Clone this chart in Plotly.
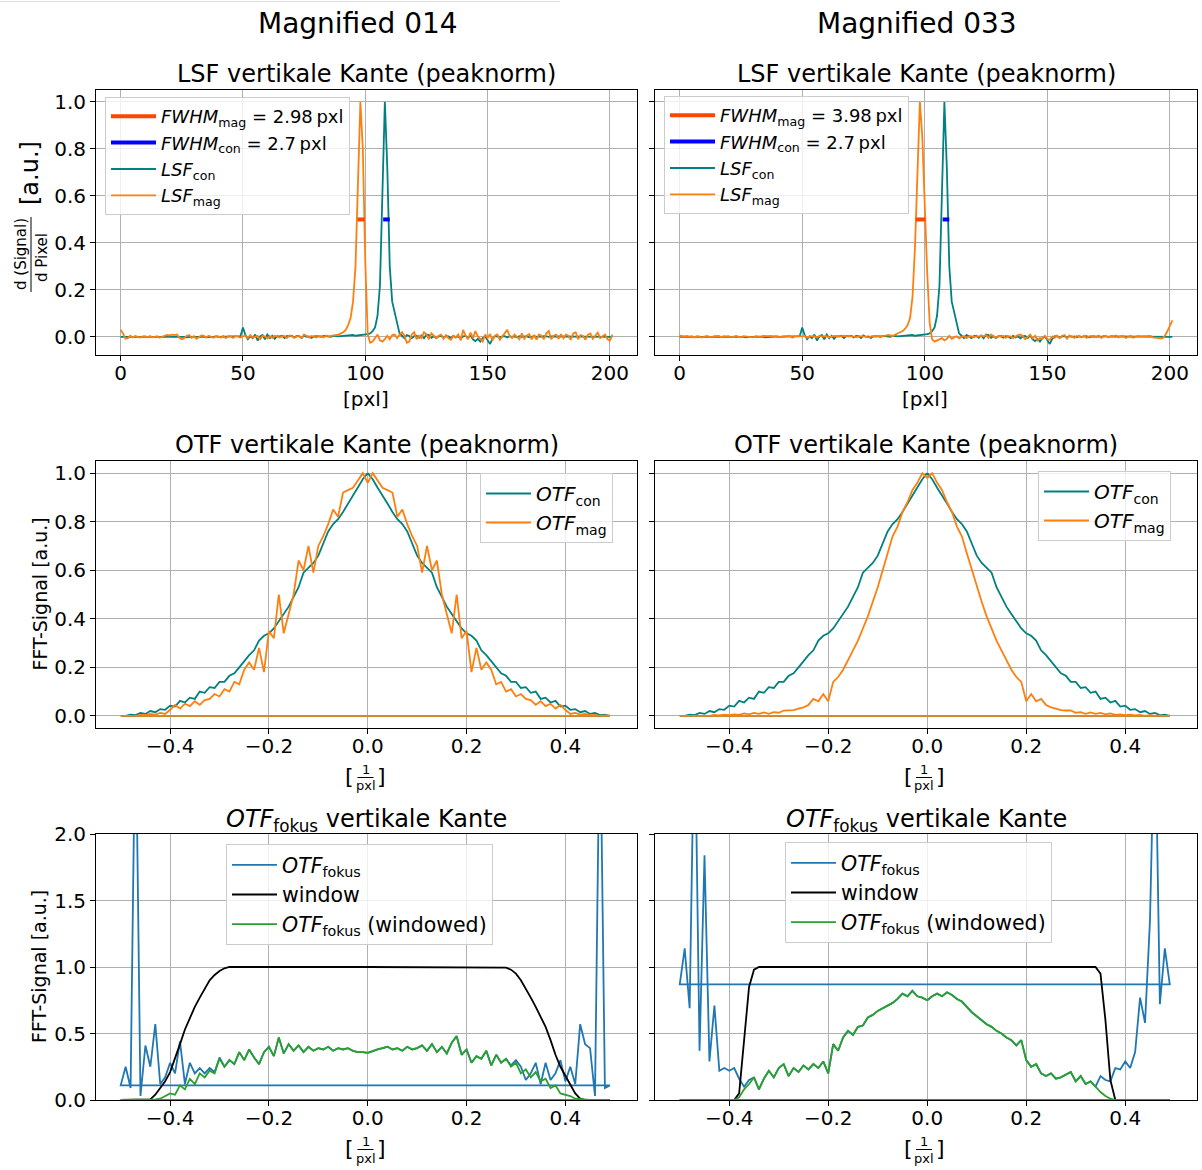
import plotly.graph_objects as go

W, H = 1202, 1170
FONT = "DejaVu Sans"

# ---------------- data ----------------
pixel = list(range(202))
freq = [round(i / 100, 2) for i in range(-50, 50)]

lsf_con = [
    0, 0, 0, 0, 0, 0, .002, 0, 0, 0,
    0, 0, 0, .002, 0, 0, 0, 0, 0, 0,
    0, .002, 0, 0, .003, 0, 0, -.002, 0, 0,
    0, 0, .002, 0, 0, -.002, 0, 0, 0, .002,
    0, 0, 0, .002, 0, 0, 0, .002, 0, .003,
    .04, .008, -.01, .003, -.005, .01, -.015, .002, .008, -.01,
    .01, -.005, .005, -.008, .003, .002, .005, -.005, .004, .002,
    .005, -.002, .004, .003, -.005, .006, 0, .002, -.004, .002,
    .003, .002, 0, .004, .002, .003, 0, .005, .003, .002,
    .003, .004, .005, .003, .006, .008, .005, .006, .01, .008,
    .01, .012, .015, .025, .04, .09, .22, .62, 1.0, .72,
    .3, .15, .1, .05, .015, .005, -.005, .008, .004, -.005,
    .003, .005, -.004, .006, -.006, .01, .008, -.004, .003, -.005,
    .002, .004, -.003, .003, .002, -.005, .004, -.002, .003, -.006,
    .002, .004, -.005, .006, -.01, -.018, -.008, -.02, -.005, .002,
    -.015, -.03, -.008, .003, .002, -.003, .002, .003, -.002, .003,
    0, .002, -.002, .003, 0, .002, .003, -.002, .002, .003,
    0, .002, 0, .003, .002, 0, .002, .002, 0, .002,
    0, .003, 0, .002, 0, .002, .003, 0, 0, .002,
    0, .002, 0, 0, .003, .002, 0, .002, 0, 0,
    .002, 0]

lsf_mag_014 = [
    .03, .015, -.008, -.005, .005, -.002, .004, .002, -.003, .002,
    .003, -.002, .004, -.002, .002, .003, -.004, .002, .005, .008,
    .006, .01, .008, .01, -.003, -.01, -.006, .005, .008, -.004,
    .003, -.008, -.002, .006, .004, -.002, .005, .002, -.004, .003,
    .002, -.003, .004, -.005, .003, .002, -.004, .004, .002, -.003,
    .003, .006, -.004, .008, -.003, .002, .005, -.01, .004, .002,
    -.006, .003, -.004, .005, .002, -.003, .002, .004, -.005, .006,
    .003, -.004, .002, .003, -.004, .01, .005, -.003, .004, .002,
    -.003, .004, .003, -.002, .006, .002, .004, .003, .005, .01,
    .015, .02, .03, .05, .08, .15, .3, .62, 1.0, .8,
    .32, .01, -.025, -.02, -.005, .01, -.015, -.02, -.01, .005,
    -.01, .008, .01, -.005, .01, .02, .005, -.025, -.02, .01,
    .02, -.01, .005, -.005, .02, .01, -.01, .015, .005, -.005,
    .005, .01, -.008, .008, -.006, -.012, .005, -.002, .01, -.015,
    .03, .005, -.01, .018, -.005, .025, .002, -.01, -.02, .01,
    -.005, .012, -.015, .005, .01, -.012, .003, .015, .03, .005,
    -.005, .01, .002, -.01, .015, -.008, .005, .012, -.01, .008,
    -.012, .01, .005, -.01, .015, .025, -.01, .005, .01, -.008,
    .012, -.006, .01, .005, -.012, .015, .02, -.01, .008, .004,
    -.012, .01, .015, -.008, .005, .018, -.005, .003, .01, -.01,
    -.015, .01]

lsf_mag_033 = [
    .005, .003, .002, .004, .001, .003, -.002, .003, .002, -.003,
    .002, .004, .001, -.002, .003, .002, .004, -.001, .003, .002,
    .003, -.002, .002, .004, .001, -.002, .003, .002, .003, .001,
    -.002, .003, .002, .001, .004, .002, .003, .004, .002, .001,
    .003, -.002, .002, .003, .001, .004, -.003, .002, .003, .001,
    .002, .004, -.003, .002, .001, .003, -.002, .004, .002, .001,
    .003, -.002, .002, .004, .003, .001, .003, .005, .002, .004,
    .003, .001, -.002, .003, .002, .004, .001, -.003, .002, .003,
    .001, .004, .002, .003, .005, .008, .006, .004, .01, .015,
    .02, .025, .035, .05, .08, .17, .38, .70, 1.0, .85,
    .55, .27, .06, -.01, -.02, -.015, -.012, -.005, -.015, -.008,
    .004, -.008, -.002, .003, -.006, -.002, .004, -.005, .002, .003,
    -.002, .003, .001, .005, .003, .008, -.005, .01, .003, -.004,
    .004, .001, .005, -.004, .002, .002, -.005, .003, .008, .01,
    .003, -.01, .002, .01, -.006, .005, -.015, -.005, -.008, .004,
    -.01, -.012, .002, -.004, .006, -.006, .004, .008, -.008, .006,
    .002, -.004, .004, .002, -.002, .005, -.004, .002, .004, -.002,
    .003, .006, -.004, .002, .003, -.002, .004, .002, .006, -.002,
    .003, .004, -.004, .002, .005, -.003, .002, .004, .002, .003,
    .002, .005, .004, -.002, -.004, -.006, -.006, -.005, .005, .025,
    .05, .07]

fwhm_mag_014 = 2.98
fwhm_mag_033 = 3.98
fwhm_con = 2.7
fwhm_left_mag_014 = 96.8
fwhm_left_mag_033 = 96.3
fwhm_left_con = 107.3
half_max = 0.5

otf_con = [
    0.0, 0.0, 0.005, 0.003, 0.012, 0.008, 0.02, 0.015, 0.028, 0.025,
    0.042, 0.038, 0.062, 0.055, 0.075, 0.07, 0.10, 0.095, 0.118, 0.115,
    0.14, 0.14, 0.165, 0.175, 0.20, 0.225, 0.25, 0.27, 0.31, 0.33,
    0.34, 0.36, 0.39, 0.42, 0.45, 0.49, 0.53, 0.59, 0.61, 0.63,
    0.66, 0.71, 0.76, 0.79, 0.81, 0.84, 0.875, 0.91, 0.94, 0.975,
    1.0, 0.975, 0.94, 0.91, 0.875, 0.84, 0.81, 0.79, 0.76, 0.71,
    0.66, 0.63, 0.61, 0.59, 0.53, 0.49, 0.45, 0.42, 0.39, 0.36,
    0.34, 0.33, 0.31, 0.27, 0.25, 0.225, 0.20, 0.175, 0.165, 0.14,
    0.14, 0.115, 0.118, 0.095, 0.10, 0.07, 0.075, 0.055, 0.062, 0.038,
    0.042, 0.025, 0.028, 0.015, 0.02, 0.008, 0.012, 0.003, 0.005, 0.0]

otf_mag_014 = [
    0.0, 0.0, 0.002, 0.0, 0.004, 0.003, 0.008, 0.005, 0.012, 0.008,
    0.025, 0.045, 0.03, 0.05, 0.04, 0.06, 0.045, 0.065, 0.07, 0.09,
    0.08, 0.11, 0.10, 0.14, 0.13, 0.19, 0.22, 0.19, 0.28, 0.18,
    0.35, 0.32, 0.50, 0.34, 0.42, 0.50, 0.64, 0.60, 0.70, 0.59,
    0.70, 0.74, 0.79, 0.85, 0.82, 0.92, 0.93, 0.94, 0.97, 1.0,
    0.96, 1.0, 0.97, 0.94, 0.93, 0.92, 0.82, 0.85, 0.79, 0.74,
    0.70, 0.59, 0.70, 0.60, 0.64, 0.50, 0.42, 0.34, 0.50, 0.32,
    0.35, 0.18, 0.28, 0.19, 0.22, 0.19, 0.13, 0.14, 0.10, 0.11,
    0.08, 0.09, 0.07, 0.065, 0.045, 0.06, 0.04, 0.05, 0.03, 0.045,
    0.025, 0.008, 0.012, 0.005, 0.008, 0.003, 0.004, 0.0, 0.002, 0.0]

otf_mag_033 = [
    0.0, 0.0, 0.0, 0.002, 0.0, 0.003, 0.0, 0.004, 0.002, 0.005,
    0.003, 0.006, 0.004, 0.01, 0.006, 0.012, 0.008, 0.014, 0.008, 0.015,
    0.013, 0.022, 0.022, 0.024, 0.03, 0.035, 0.045, 0.07, 0.06, 0.09,
    0.06, 0.14, 0.16, 0.19, 0.23, 0.27, 0.31, 0.36, 0.41, 0.47,
    0.53, 0.60, 0.67, 0.74, 0.78, 0.84, 0.88, 0.93, 0.96, 1.0,
    0.98, 1.0, 0.96, 0.93, 0.88, 0.84, 0.78, 0.74, 0.67, 0.60,
    0.53, 0.47, 0.41, 0.36, 0.31, 0.27, 0.23, 0.19, 0.16, 0.14,
    0.06, 0.09, 0.06, 0.07, 0.045, 0.035, 0.03, 0.024, 0.022, 0.022,
    0.013, 0.015, 0.008, 0.014, 0.008, 0.012, 0.006, 0.01, 0.004, 0.006,
    0.003, 0.005, 0.002, 0.004, 0.0, 0.003, 0.0, 0.002, 0.0, 0.0]

otf_fokus_014 = [
    0.11, 0.25, 0.09, 3.0, 0.03, 0.41, 0.25, 0.57, 0.12, 0.17,
    0.28, 0.20, 0.44, 0.12, 0.28, 0.20, 0.24, 0.20, 0.24, 0.21,
    0.32, 0.25, 0.30, 0.27, 0.36, 0.30, 0.38, 0.32, 0.27, 0.36,
    0.40, 0.33, 0.47, 0.35, 0.42, 0.37, 0.41, 0.36, 0.40, 0.37,
    0.39, 0.38, 0.40, 0.37, 0.39, 0.38, 0.39, 0.37, 0.36, 0.36,
    0.355, 0.37, 0.38, 0.39, 0.40, 0.38, 0.39, 0.37, 0.40, 0.38,
    0.39, 0.41, 0.37, 0.42, 0.36, 0.40, 0.35, 0.43, 0.48, 0.34,
    0.38, 0.28, 0.33, 0.31, 0.37, 0.26, 0.34, 0.28, 0.31, 0.26,
    0.30, 0.25, 0.15, 0.20, 0.28, 0.12, 0.28, 0.15, 0.20, 0.30,
    0.14, 0.25, 0.12, 0.57, 0.42, 0.39, 0.03, 3.0, 0.09, 0.11]

window_014 = [
    0, 0, 0, 0, 0, 0, 0.005, 0.04, 0.09, 0.14,
    0.21, 0.31, 0.42, 0.53, 0.62, 0.70, 0.77, 0.84, 0.90, 0.94,
    0.97, 0.99, 1.0, 1.0, 1.0, 1.0, 1.0, 1.0, 1.0, 1.0,
    1.0, 1.0, 1.0, 1.0, 1.0, 1.0, 1.0, 1.0, 1.0, 1.0,
    1.0, 1.0, 1.0, 1.0, 1.0, 1.0, 1.0, 1.0, 1.0, 1.0,
    1.0, 1.0, 1.0, 1.0, 1.0, 1.0, 1.0, 1.0, 1.0, 1.0,
    1.0, 1.0, 1.0, 1.0, 1.0, 1.0, 1.0, 1.0, 1.0, 1.0,
    1.0, 1.0, 1.0, 1.0, 1.0, 1.0, 1.0, 1.0, 0.995, 0.98,
    0.95, 0.90, 0.84, 0.77, 0.70, 0.62, 0.55, 0.45, 0.34, 0.25,
    0.18, 0.11, 0.05, 0.01, 0, 0, 0, 0, 0, 0]

otf_win_014 = [
    0, 0, 0, 0, 0, 0, 0, 0.005, 0.01, 0.03,
    0.05, 0.04, 0.11, 0.08, 0.16, 0.12, 0.20, 0.17, 0.22, 0.20,
    0.31, 0.25, 0.30, 0.27, 0.36, 0.30, 0.38, 0.32, 0.27, 0.36,
    0.40, 0.33, 0.47, 0.35, 0.42, 0.37, 0.41, 0.36, 0.40, 0.37,
    0.39, 0.38, 0.40, 0.37, 0.39, 0.38, 0.39, 0.37, 0.36, 0.36,
    0.355, 0.37, 0.38, 0.39, 0.40, 0.38, 0.39, 0.37, 0.40, 0.38,
    0.39, 0.41, 0.37, 0.42, 0.36, 0.40, 0.35, 0.43, 0.48, 0.34,
    0.38, 0.28, 0.33, 0.31, 0.37, 0.26, 0.34, 0.28, 0.31, 0.25,
    0.28, 0.20, 0.23, 0.17, 0.21, 0.14, 0.16, 0.09, 0.11, 0.05,
    0.04, 0.03, 0.01, 0.005, 0, 0, 0, 0, 0, 0]

otf_fokus_033 = [
    0.87, 1.14, 0.69, 3.0, 0.37, 1.84, 0.29, 0.71, 0.22, 0.24,
    0.22, 0.24, 0.16, 0.10, 0.15, 0.17, 0.08, 0.16, 0.22, 0.17,
    0.24, 0.27, 0.18, 0.24, 0.21, 0.26, 0.23, 0.27, 0.24, 0.29,
    0.20, 0.42, 0.37, 0.47, 0.52, 0.49, 0.55, 0.56, 0.62, 0.64,
    0.67, 0.69, 0.71, 0.73, 0.76, 0.80, 0.78, 0.82, 0.78, 0.77,
    0.75, 0.78, 0.80, 0.78, 0.81, 0.79, 0.76, 0.74, 0.70, 0.66,
    0.63, 0.60, 0.57, 0.55, 0.52, 0.50, 0.47, 0.45, 0.41, 0.45,
    0.30, 0.25, 0.27, 0.20, 0.18, 0.20, 0.16, 0.17, 0.19, 0.21,
    0.14, 0.18, 0.12, 0.14, 0.10, 0.18, 0.15, 0.14, 0.24, 0.23,
    0.29, 0.24, 0.36, 0.77, 0.58, 1.35, 3.0, 0.72, 1.14, 0.87]

window_033 = [
    0, 0, 0, 0, 0, 0, 0, 0, 0, 0,
    0, 0, 0.05, 0.45, 0.85, 0.98, 1.0, 1.0, 1.0, 1.0,
    1.0, 1.0, 1.0, 1.0, 1.0, 1.0, 1.0, 1.0, 1.0, 1.0,
    1.0, 1.0, 1.0, 1.0, 1.0, 1.0, 1.0, 1.0, 1.0, 1.0,
    1.0, 1.0, 1.0, 1.0, 1.0, 1.0, 1.0, 1.0, 1.0, 1.0,
    1.0, 1.0, 1.0, 1.0, 1.0, 1.0, 1.0, 1.0, 1.0, 1.0,
    1.0, 1.0, 1.0, 1.0, 1.0, 1.0, 1.0, 1.0, 1.0, 1.0,
    1.0, 1.0, 1.0, 1.0, 1.0, 1.0, 1.0, 1.0, 1.0, 1.0,
    1.0, 1.0, 1.0, 1.0, 1.0, 0.95, 0.6, 0.15, 0, 0,
    0, 0, 0, 0, 0, 0, 0, 0, 0, 0]

otf_win_033 = [
    0, 0, 0, 0, 0, 0, 0, 0, 0, 0,
    0, 0, 0.02, 0.08, 0.12, 0.17, 0.08, 0.16, 0.22, 0.17,
    0.24, 0.27, 0.18, 0.24, 0.21, 0.26, 0.23, 0.27, 0.24, 0.29,
    0.20, 0.42, 0.37, 0.47, 0.52, 0.49, 0.55, 0.56, 0.62, 0.64,
    0.67, 0.69, 0.71, 0.73, 0.76, 0.80, 0.78, 0.82, 0.78, 0.77,
    0.75, 0.78, 0.80, 0.78, 0.81, 0.79, 0.76, 0.74, 0.70, 0.66,
    0.63, 0.60, 0.57, 0.55, 0.52, 0.50, 0.47, 0.45, 0.41, 0.45,
    0.30, 0.25, 0.27, 0.20, 0.18, 0.20, 0.16, 0.17, 0.19, 0.21,
    0.14, 0.18, 0.12, 0.14, 0.10, 0.06, 0.03, 0.01, 0, 0,
    0, 0, 0, 0, 0, 0, 0, 0, 0, 0]

for arr in (lsf_con, lsf_mag_014, lsf_mag_033):
    assert len(arr) == len(pixel), len(arr)
for arr in (otf_con, otf_mag_014, otf_mag_033, otf_fokus_014, window_014,
            otf_win_014, otf_fokus_033, window_033, otf_win_033):
    assert len(arr) == len(freq), len(arr)

# matplotlib plotted the unshifted FFT order (0 ... 0.49, -0.5 ... -0.01, back to 0)
order = list(range(50, 100)) + list(range(0, 50)) + [50]


def fft_order(v):
    return [v[i] for i in order]


f_plot = fft_order(freq)

# ---------------- styling ----------------
TEAL = "#008080"
ORANGE = "#ff7f0e"
ORED = "#ff4500"
BLUE = "#0000ff"
TBLUE = "#1f77b4"
GREEN = "#2ca02c"
LW = 1.8


def px_x(px):
    return px / W


def px_y(py):
    return 1 - py / H


COLX = [(96, 637), (655, 1197)]
ROWY = [(90, 355), (461, 728), (834, 1100)]

fig = go.Figure()


def axn(row, col):
    return 2 * row + col + 1


def add(x, y, row, col, name, color, width=LW, rank=1000):
    n = axn(row, col)
    fig.add_trace(go.Scatter(
        x=x, y=y, mode="lines", name=name,
        line=dict(color=color, width=width),
        xaxis="x" if n == 1 else f"x{n}", yaxis="y" if n == 1 else f"y{n}",
        legend="legend" if n == 1 else f"legend{n}",
        legendrank=rank, hoverinfo="skip"))


LSF_CON = "<i>LSF</i><sub>con</sub>"
LSF_MAG = "<i>LSF</i><sub>mag</sub>"
OTF_CON = "<i>OTF</i><sub>con</sub>"
OTF_MAG = "<i>OTF</i><sub>mag</sub>"
OTF_FOK = "<i>OTF</i><sub>fokus</sub>"

mags = [(lsf_mag_014, fwhm_mag_014, fwhm_left_mag_014, otf_mag_014,
         otf_fokus_014, window_014, otf_win_014),
        (lsf_mag_033, fwhm_mag_033, fwhm_left_mag_033, otf_mag_033,
         otf_fokus_033, window_033, otf_win_033)]

for col, (lsf_mag, fw_mag, fl_mag, otf_mag, fok, win, fwin) in enumerate(mags):
    # row 1 : LSF
    add(pixel, lsf_con, 0, col, LSF_CON, TEAL, rank=3)
    add(pixel, lsf_mag, 0, col, LSF_MAG, ORANGE, rank=4)
    add([fl_mag, fl_mag + fw_mag], [half_max, half_max], 0, col,
        f"<i>FWHM</i><sub>mag</sub> = {fw_mag}\u2009pxl", ORED, width=4, rank=1)
    add([fwhm_left_con, fwhm_left_con + fwhm_con], [half_max, half_max], 0, col,
        f"<i>FWHM</i><sub>con</sub> = {fwhm_con}\u2009pxl", BLUE, width=4, rank=2)
    # row 2 : OTF
    add(f_plot, fft_order(otf_con), 1, col, OTF_CON, TEAL, rank=1)
    add(f_plot, fft_order(otf_mag), 1, col, OTF_MAG, ORANGE, rank=2)
    # row 3 : OTF fokus
    add(f_plot, fft_order(fok), 2, col, OTF_FOK, TBLUE, rank=1)
    add(f_plot, fft_order(win), 2, col, "window", "black", rank=2)
    add(f_plot, fft_order(fwin), 2, col, OTF_FOK + " (windowed)", GREEN, rank=3)

layout = dict(
    width=W, height=H, autosize=False,
    margin=dict(l=0, r=0, t=0, b=0, pad=0, autoexpand=False),
    paper_bgcolor="white", plot_bgcolor="white",
    font=dict(family=FONT, size=20, color="black"),
)

ax_common = dict(showline=True, linecolor="black", linewidth=1, mirror=True,
                 ticks="outside", ticklen=5, tickwidth=1, tickcolor="black",
                 showgrid=True, gridcolor="#b0b0b0", gridwidth=1, zeroline=False,
                 automargin=False,
                 tickfont=dict(family=FONT, size=20, color="black"))

xr = [[-10.05, 211.05], [-0.55, 0.545], [-0.55, 0.545]]
yr = [[-0.077, 1.051], [-0.05, 1.05], [0, 2]]
xt = [[0, 50, 100, 150, 200], [-0.4, -0.2, 0, 0.2, 0.4], [-0.4, -0.2, 0, 0.2, 0.4]]
xf = ["d", ".1f", ".1f"]
yt = [[0, 0.2, 0.4, 0.6, 0.8, 1.0], [0, 0.2, 0.4, 0.6, 0.8, 1.0], [0, 0.5, 1.0, 1.5, 2.0]]

for row in range(3):
    for col in range(2):
        n = axn(row, col)
        xs = "" if n == 1 else str(n)
        x0, x1 = COLX[col]
        y0, y1 = ROWY[row]
        layout["xaxis" + xs] = dict(ax_common, domain=[px_x(x0), px_x(x1)],
                                    anchor="y" + xs, range=xr[row],
                                    tickvals=xt[row], tickformat=xf[row],
                                    ticklabelstandoff=-5)
        layout["yaxis" + xs] = dict(ax_common, domain=[px_y(y1), px_y(y0)],
                                    anchor="x" + xs, range=yr[row],
                                    tickvals=yt[row], tickformat=".1f",
                                    showticklabels=(col == 0))

leg_pos = {1: (105, 97, 18), 2: (664, 96, 18), 3: (480, 473, 20),
           4: (1038, 471, 20), 5: (226, 844, 20.5), 6: (785, 842, 20.5)}
for n, (lx, ly, fs) in leg_pos.items():
    key = "legend" if n == 1 else f"legend{n}"
    layout[key] = dict(x=px_x(lx), y=px_y(ly), xanchor="left", yanchor="top",
                       bgcolor="rgba(255,255,255,0.8)", bordercolor="#cccccc",
                       borderwidth=1, font=dict(family=FONT, size=fs, color="black"),
                       itemwidth=45, traceorder="normal")

fig.update_layout(**layout)

annotations = []
shapes = []


def ann(text, px, py, size, angle=0, xanchor="center", yanchor="middle"):
    annotations.append(dict(text=text, x=px_x(px), y=px_y(py), xref="paper",
                            yref="paper", showarrow=False, textangle=angle,
                            xanchor=xanchor, yanchor=yanchor, borderpad=0,
                            font=dict(family=FONT, size=size, color="black")))


def hline(xa, xb, py, color="black", width=1):
    shapes.append(dict(type="line", xref="paper", yref="paper",
                       x0=px_x(xa), x1=px_x(xb), y0=px_y(py), y1=px_y(py),
                       line=dict(color=color, width=width)))


def vline(px, ya, yb, color="black", width=1):
    shapes.append(dict(type="line", xref="paper", yref="paper",
                       x0=px_x(px), x1=px_x(px), y0=px_y(ya), y1=px_y(yb),
                       line=dict(color=color, width=width)))


# figure super titles
ann("Magnified 014", 358, 23, 28)
ann("Magnified 033", 917, 23, 28)
hline(0, 560, 1.5, color="#dddddd", width=1)

titles = ["LSF vertikale Kante (peaknorm)", "OTF vertikale Kante (peaknorm)",
          "<i>OTF</i><sub>fokus</sub> vertikale Kante"]
for row in range(3):
    for col in range(2):
        cx = (COLX[col][0] + COLX[col][1]) / 2
        ty = ROWY[row][0] - 16 + (2 if row == 2 else 0)
        ann(titles[row], cx, ty, 24)

# x labels
for col, cx in enumerate([366, 924.5]):
    ann("[pxl]", cx, 399, 20)
for row in (1, 2):
    by = ROWY[row][1]
    for cx in (365.5, 924):
        ann("[", cx - 16, by + 48, 22)
        ann("]", cx + 16, by + 48, 22)
        ann("1", cx, by + 41, 13)
        hline(cx - 8, cx + 8, by + 49.5)
        ann("pxl", cx, by + 58, 13)

# y labels
ann("[a.u.]", 30, 173, 24, angle=-90)
ann("d (Signal)", 21, 254, 15, angle=-90)
vline(31, 217, 292)
ann("d Pixel", 42, 257, 15, angle=-90)
for row in (1, 2):
    cy = (ROWY[row][0] + ROWY[row][1]) / 2
    ann("FFT-Signal [a.u.]", 39, cy, 19, angle=-90)

fig.update_layout(annotations=annotations, shapes=shapes)
fig.write_html("out.html")
